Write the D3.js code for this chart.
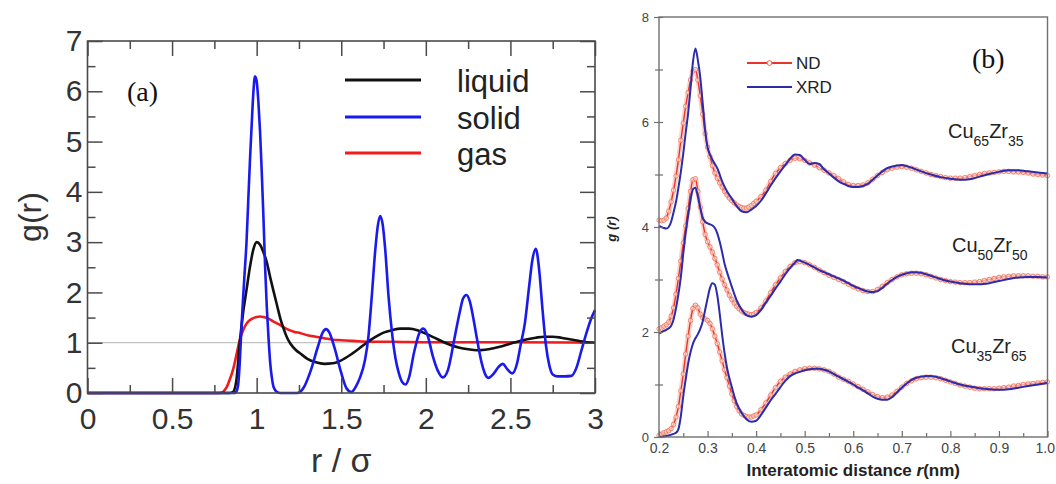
<!DOCTYPE html>
<html>
<head>
<meta charset="utf-8">
<script src="https://cdn.jsdelivr.net/npm/d3@7"></script>
<style>
  html, body { margin: 0; padding: 0; background: #fff; }
  svg { display: block; }
</style>
</head>
<body>
<svg id="chart" width="1056" height="484"></svg>
<script>
// ---------- Panel (a): model radial distribution functions, r in units of sigma ----------
const phaseNames = ["liquid", "solid", "gas"];
const phaseColors = ["#111111", "#1a1aee", "#ee1c1c"];

const gLiquid = [
  [0, 0], [0.84, 0], [0.86, 0.02], [0.88, 0.25], [0.90, 1.0], [0.92, 1.6], [0.94, 2.05],
  [0.96, 2.5], [0.98, 2.85], [1.00, 3.0], [1.02, 2.95], [1.04, 2.8], [1.06, 2.6],
  [1.08, 2.3], [1.10, 2.02], [1.12, 1.75], [1.14, 1.48], [1.16, 1.27], [1.18, 1.1],
  [1.20, 0.98], [1.23, 0.86], [1.26, 0.78], [1.30, 0.68], [1.35, 0.61], [1.40, 0.58],
  [1.45, 0.59], [1.50, 0.65], [1.55, 0.75], [1.60, 0.87], [1.65, 1.0], [1.70, 1.11],
  [1.75, 1.2], [1.80, 1.25], [1.85, 1.28], [1.90, 1.28], [1.95, 1.25], [2.00, 1.18],
  [2.05, 1.1], [2.10, 1.02], [2.15, 0.95], [2.20, 0.9], [2.25, 0.87], [2.30, 0.85],
  [2.35, 0.86], [2.40, 0.89], [2.45, 0.93], [2.50, 0.98], [2.55, 1.03], [2.60, 1.07],
  [2.65, 1.1], [2.70, 1.12], [2.75, 1.12], [2.80, 1.1], [2.85, 1.07], [2.90, 1.04],
  [2.95, 1.01], [3.00, 1.0]
];

const gSolid = [
  [0, 0], [0.87, 0], [0.88, 0.03], [0.89, 0.15], [0.90, 0.6], [0.91, 1.3], [0.92, 1.9],
  [0.93, 2.45], [0.94, 3.0], [0.95, 3.8], [0.96, 4.6], [0.97, 5.3], [0.98, 5.95],
  [0.99, 6.3], [1.00, 6.2], [1.01, 5.8], [1.02, 5.2], [1.03, 4.4], [1.04, 3.5],
  [1.05, 2.5], [1.06, 1.7], [1.07, 1.1], [1.08, 0.6], [1.09, 0.3], [1.10, 0.12],
  [1.12, 0.02], [1.14, 0], [1.24, 0], [1.28, 0.12], [1.32, 0.45], [1.36, 0.9],
  [1.39, 1.2], [1.41, 1.27], [1.43, 1.2], [1.46, 0.9], [1.50, 0.4], [1.53, 0.1],
  [1.56, 0.02], [1.59, 0.15], [1.61, 0.3], [1.64, 0.65], [1.66, 1.1], [1.68, 1.9],
  [1.70, 2.8], [1.715, 3.3], [1.73, 3.52], [1.745, 3.35], [1.76, 2.85], [1.78, 1.9],
  [1.80, 1.2], [1.82, 0.7], [1.84, 0.4], [1.86, 0.22], [1.88, 0.17], [1.90, 0.3],
  [1.93, 0.8], [1.96, 1.18], [1.985, 1.28], [2.01, 1.15], [2.04, 0.75], [2.07, 0.45],
  [2.10, 0.31], [2.13, 0.45], [2.17, 1.1], [2.20, 1.6], [2.22, 1.88], [2.24, 1.95],
  [2.26, 1.82], [2.28, 1.5], [2.30, 1.12], [2.33, 0.6], [2.36, 0.32], [2.37, 0.3],
  [2.40, 0.38], [2.43, 0.52], [2.455, 0.58], [2.48, 0.48], [2.51, 0.39], [2.54, 0.6],
  [2.56, 0.95], [2.586, 1.4], [2.61, 2.1], [2.63, 2.65], [2.65, 2.87], [2.67, 2.45],
  [2.69, 1.65], [2.71, 0.95], [2.73, 0.55], [2.75, 0.37], [2.78, 0.33], [2.82, 0.33],
  [2.86, 0.34], [2.89, 0.5], [2.92, 0.85], [2.95, 1.2], [2.98, 1.5], [3.00, 1.65]
];

const gGas = [
  [0, 0], [0.78, 0], [0.80, 0.02], [0.82, 0.1], [0.84, 0.26], [0.86, 0.46], [0.88, 0.75],
  [0.90, 1.05], [0.92, 1.25], [0.94, 1.38], [0.96, 1.45], [0.98, 1.49], [1.00, 1.51],
  [1.02, 1.52], [1.04, 1.51], [1.07, 1.48], [1.10, 1.42], [1.14, 1.35], [1.18, 1.27],
  [1.22, 1.22], [1.26, 1.19], [1.30, 1.15], [1.35, 1.12], [1.40, 1.09], [1.45, 1.06],
  [1.50, 1.05], [1.55, 1.04], [1.60, 1.03], [1.70, 1.02], [1.80, 1.02], [2.00, 1.01],
  [2.50, 1.01], [3.00, 1.0]
];

const phaseSeries = [gLiquid, gSolid, gGas];

const aMajorX = [0, 0.5, 1, 1.5, 2, 2.5, 3];
const aMinorX = [0.25, 0.75, 1.25, 1.75, 2.25, 2.75];
const aMajorY = [0, 1, 2, 3, 4, 5, 6, 7];
const aMinorY = [0.5, 1.5, 2.5, 3.5, 4.5, 5.5, 6.5];

// ---------- Panel (b): measured g(r) of Cu-Zr glasses, neutron vs X-ray ----------
const alloyMain = [["Cu", "Zr"], ["Cu", "Zr"], ["Cu", "Zr"]];
const alloySubs = [["65", "35"], ["50", "50"], ["35", "65"]];
const alloyOffsets = [4, 2, 0];

const ndCu65 = [
  [0.200,0.13],[0.205,0.12],[0.210,0.13],[0.215,0.17],[0.220,0.30],[0.225,0.48],[0.230,0.70],
  [0.235,0.97],[0.240,1.28],[0.245,1.65],[0.250,1.98],[0.255,2.30],[0.260,2.56],[0.265,2.80],
  [0.270,2.97],[0.275,3.00],[0.280,2.80],[0.285,2.50],[0.290,2.15],[0.295,1.78],[0.300,1.52],
  [0.305,1.34],[0.310,1.17],[0.315,1.03],[0.320,0.93],[0.325,0.84],[0.330,0.76],[0.335,0.68],
  [0.340,0.61],[0.345,0.55],[0.350,0.50],[0.355,0.46],[0.360,0.42],[0.365,0.39],[0.370,0.37],
  [0.375,0.36],[0.380,0.36],[0.385,0.38],[0.390,0.41],[0.395,0.45],[0.400,0.49],
  [0.41,0.58],[0.42,0.70],[0.43,0.87],[0.44,1.02],[0.45,1.13],[0.46,1.21],[0.47,1.27],
  [0.48,1.31],[0.49,1.30],[0.50,1.27],[0.51,1.22],[0.52,1.18],[0.53,1.13],[0.54,1.08],
  [0.55,1.03],[0.56,0.98],[0.57,0.92],[0.58,0.86],[0.59,0.81],[0.60,0.79],[0.61,0.79],
  [0.62,0.80],[0.63,0.84],[0.64,0.91],[0.65,0.98],[0.66,1.04],[0.67,1.09],[0.68,1.12],
  [0.69,1.14],[0.70,1.15],[0.71,1.14],[0.72,1.12],[0.73,1.09],[0.74,1.06],[0.75,1.03],
  [0.76,1.00],[0.77,0.98],[0.78,0.96],[0.79,0.94],[0.80,0.93],[0.81,0.93],[0.82,0.93],
  [0.83,0.94],[0.84,0.96],[0.85,0.98],[0.86,1.00],[0.87,1.02],[0.88,1.03],[0.89,1.04],
  [0.90,1.05],[0.91,1.06],[0.92,1.06],[0.93,1.05],[0.94,1.05],[0.95,1.04],[0.96,1.03],
  [0.97,1.01],[0.98,1.00],[0.99,0.99],[1.00,0.98]
];

const xrdCu65 = [
  [0.200,0.02],[0.205,0.00],[0.210,-0.02],[0.215,-0.03],[0.220,0.00],[0.225,0.10],[0.230,0.28],
  [0.235,0.48],[0.240,0.75],[0.245,1.05],[0.250,1.40],[0.255,1.80],[0.260,2.17],[0.265,2.65],
  [0.270,3.15],[0.275,3.40],[0.280,3.18],[0.285,2.85],[0.290,2.35],[0.295,1.85],[0.300,1.52],
  [0.305,1.38],[0.310,1.28],[0.315,1.20],[0.320,1.12],[0.330,0.87],[0.340,0.68],[0.350,0.54],
  [0.360,0.40],[0.370,0.30],[0.380,0.28],[0.390,0.33],[0.400,0.40],[0.410,0.50],[0.420,0.64],
  [0.430,0.79],[0.440,0.93],[0.450,1.06],[0.460,1.18],[0.470,1.30],[0.480,1.38],[0.490,1.37],
  [0.500,1.28],[0.510,1.20],[0.520,1.22],[0.530,1.20],[0.540,1.10],[0.550,1.02],[0.560,0.94],
  [0.570,0.87],[0.580,0.82],[0.590,0.78],[0.600,0.76],[0.610,0.76],[0.620,0.78],[0.630,0.82],
  [0.640,0.90],[0.650,0.98],[0.660,1.06],[0.670,1.12],[0.680,1.15],[0.690,1.17],[0.700,1.18],
  [0.710,1.16],[0.720,1.13],[0.740,1.06],[0.760,1.00],[0.780,0.95],[0.800,0.92],[0.820,0.90],
  [0.840,0.91],[0.860,0.96],[0.880,1.01],[0.900,1.05],[0.920,1.08],[0.940,1.08],[0.960,1.06],
  [0.980,1.04],[1.000,1.02]
];

const ndCu50 = [
  [0.200,0.06],[0.205,0.08],[0.210,0.11],[0.215,0.14],[0.220,0.19],[0.225,0.30],[0.230,0.46],
  [0.235,0.72],[0.240,1.02],[0.245,1.35],[0.250,1.70],[0.255,2.02],[0.260,2.35],[0.265,2.68],
  [0.270,2.90],[0.275,2.92],[0.280,2.68],[0.285,2.38],[0.290,2.10],[0.295,1.86],[0.300,1.72],
  [0.305,1.62],[0.310,1.52],[0.315,1.40],[0.320,1.28],[0.325,1.14],[0.330,1.01],[0.335,0.90],
  [0.340,0.80],[0.345,0.70],[0.350,0.62],[0.355,0.55],[0.360,0.49],[0.365,0.44],[0.370,0.40],
  [0.375,0.37],[0.380,0.35],[0.385,0.34],[0.390,0.33],[0.395,0.34],[0.400,0.37],
  [0.41,0.46],[0.42,0.59],[0.43,0.75],[0.44,0.90],[0.45,1.03],[0.46,1.15],[0.47,1.25],
  [0.48,1.32],[0.49,1.34],[0.50,1.32],[0.51,1.28],[0.52,1.23],[0.53,1.18],[0.54,1.13],
  [0.55,1.08],[0.56,1.04],[0.57,1.00],[0.58,0.96],[0.59,0.91],[0.60,0.86],[0.61,0.82],
  [0.62,0.79],[0.63,0.77],[0.64,0.77],[0.65,0.81],[0.66,0.87],[0.67,0.94],[0.68,1.00],
  [0.69,1.05],[0.70,1.09],[0.71,1.11],[0.72,1.12],[0.73,1.12],[0.74,1.11],[0.75,1.09],
  [0.76,1.06],[0.77,1.03],[0.78,1.00],[0.79,0.98],[0.80,0.96],[0.81,0.95],[0.82,0.94],
  [0.83,0.94],[0.84,0.94],[0.85,0.95],[0.86,0.96],[0.87,0.98],[0.88,1.00],[0.89,1.02],
  [0.90,1.04],[0.91,1.05],[0.92,1.06],[0.93,1.07],[0.94,1.07],[0.95,1.07],[0.96,1.07],
  [0.97,1.06],[0.98,1.06],[0.99,1.05],[1.00,1.05]
];

const xrdCu50 = [
  [0.200,-0.03],[0.210,0.02],[0.220,0.07],[0.225,0.12],[0.230,0.24],[0.235,0.45],[0.240,0.72],
  [0.245,1.05],[0.250,1.50],[0.255,1.90],[0.260,2.22],[0.265,2.52],[0.270,2.72],[0.275,2.75],
  [0.280,2.58],[0.285,2.36],[0.290,2.18],[0.295,2.10],[0.300,2.07],[0.305,2.05],[0.310,2.03],
  [0.315,1.98],[0.320,1.88],[0.325,1.72],[0.330,1.52],[0.335,1.30],[0.340,1.14],[0.345,1.00],
  [0.350,0.86],[0.360,0.60],[0.370,0.43],[0.380,0.32],[0.390,0.29],[0.400,0.32],[0.410,0.42],
  [0.420,0.56],[0.430,0.69],[0.440,0.83],[0.450,0.96],[0.460,1.10],[0.470,1.22],[0.480,1.32],
  [0.485,1.37],[0.490,1.36],[0.500,1.32],[0.510,1.28],[0.520,1.23],[0.530,1.18],[0.540,1.14],
  [0.550,1.10],[0.560,1.06],[0.570,1.02],[0.580,0.98],[0.590,0.93],[0.600,0.88],[0.610,0.84],
  [0.620,0.80],[0.630,0.77],[0.640,0.76],[0.650,0.78],[0.660,0.84],[0.670,0.92],[0.680,0.99],
  [0.690,1.05],[0.700,1.09],[0.710,1.12],[0.720,1.14],[0.730,1.14],[0.740,1.13],[0.750,1.10],
  [0.760,1.07],[0.780,1.01],[0.800,0.96],[0.820,0.93],[0.840,0.91],[0.860,0.91],[0.880,0.93],
  [0.900,0.97],[0.920,1.01],[0.940,1.04],[0.960,1.05],[0.980,1.05],[1.000,1.04]
];

const ndCu35 = [
  [0.200,0.03],[0.205,0.05],[0.210,0.08],[0.215,0.10],[0.220,0.12],[0.225,0.16],[0.230,0.24],
  [0.235,0.38],[0.240,0.58],[0.245,0.88],[0.250,1.20],[0.255,1.58],[0.260,1.92],[0.265,2.22],
  [0.270,2.45],[0.275,2.51],[0.280,2.46],[0.285,2.34],[0.290,2.27],[0.295,2.25],[0.300,2.22],
  [0.305,2.16],[0.310,2.06],[0.315,1.92],[0.320,1.78],[0.325,1.62],[0.330,1.45],[0.335,1.28],
  [0.340,1.13],[0.345,0.97],[0.350,0.82],[0.355,0.69],[0.360,0.58],[0.365,0.50],[0.370,0.44],
  [0.375,0.41],[0.380,0.39],[0.385,0.38],[0.390,0.38],[0.395,0.40],[0.400,0.42],
  [0.41,0.52],[0.42,0.65],[0.43,0.80],[0.44,0.94],[0.45,1.06],[0.46,1.14],[0.47,1.20],
  [0.48,1.25],[0.49,1.28],[0.50,1.30],[0.51,1.31],[0.52,1.31],[0.53,1.30],[0.54,1.28],
  [0.55,1.25],[0.56,1.20],[0.57,1.14],[0.58,1.10],[0.59,1.06],[0.60,1.01],[0.61,0.96],
  [0.62,0.91],[0.63,0.86],[0.64,0.81],[0.65,0.77],[0.66,0.75],[0.67,0.76],[0.68,0.80],
  [0.69,0.87],[0.70,0.95],[0.71,1.02],[0.72,1.07],[0.73,1.11],[0.74,1.13],[0.75,1.14],
  [0.76,1.14],[0.77,1.13],[0.78,1.11],[0.79,1.08],[0.80,1.05],[0.81,1.02],[0.82,0.99],
  [0.83,0.97],[0.84,0.95],[0.85,0.93],[0.86,0.92],[0.87,0.92],[0.88,0.92],[0.89,0.92],
  [0.90,0.93],[0.91,0.94],[0.92,0.95],[0.93,0.97],[0.94,0.98],[0.95,1.00],[0.96,1.01],
  [0.97,1.02],[0.98,1.03],[0.99,1.04],[1.00,1.05]
];

const xrdCu35 = [
  [0.200,0.00],[0.210,0.01],[0.220,0.03],[0.230,0.06],[0.235,0.08],[0.240,0.15],[0.245,0.40],
  [0.250,0.78],[0.255,1.10],[0.260,1.40],[0.265,1.62],[0.270,1.78],[0.275,1.88],[0.280,1.96],
  [0.285,2.06],[0.290,2.20],[0.295,2.42],[0.300,2.64],[0.305,2.84],[0.310,2.93],[0.315,2.90],
  [0.320,2.70],[0.325,2.35],[0.330,1.95],[0.335,1.60],[0.340,1.32],[0.345,1.12],[0.350,0.95],
  [0.355,0.78],[0.360,0.64],[0.370,0.46],[0.380,0.34],[0.390,0.29],[0.400,0.31],[0.410,0.42],
  [0.420,0.56],[0.430,0.70],[0.440,0.82],[0.450,0.95],[0.460,1.07],[0.470,1.16],[0.480,1.21],
  [0.490,1.24],[0.500,1.27],[0.510,1.29],[0.520,1.30],[0.530,1.30],[0.540,1.28],[0.550,1.25],
  [0.560,1.20],[0.570,1.15],[0.580,1.10],[0.590,1.05],[0.600,1.00],[0.610,0.94],[0.620,0.89],
  [0.630,0.83],[0.640,0.77],[0.650,0.73],[0.660,0.71],[0.670,0.71],[0.680,0.76],[0.690,0.85],
  [0.700,0.94],[0.710,1.02],[0.720,1.09],[0.730,1.13],[0.740,1.15],[0.750,1.16],[0.760,1.16],
  [0.780,1.12],[0.800,1.06],[0.820,1.00],[0.840,0.96],[0.860,0.93],[0.880,0.91],[0.900,0.90],
  [0.920,0.91],[0.940,0.94],[0.960,0.97],[0.980,1.00],[1.000,1.03]
];

const ndSeries = [ndCu65, ndCu50, ndCu35];
const xrdSeries = [xrdCu65, xrdCu50, xrdCu35];
const methodNames = ["ND", "XRD"];

const bMajorX = [0.2, 0.3, 0.4, 0.5, 0.6, 0.7, 0.8, 0.9, 1.0];
const bMinorX = [0.25, 0.35, 0.45, 0.55, 0.65, 0.75, 0.85, 0.95];
const bMajorY = [0, 2, 4, 6, 8];
const bMinorY = [1, 3, 5, 7];

// ---------- drawing ----------
const svg = d3.select("#chart");
const SANS = "'Liberation Sans', Arial, sans-serif";
const SERIF = "'Liberation Serif', 'Times New Roman', serif";

// ===== panel (a) =====
(function panelA() {
  const L = 87.5, R = 595, T = 41, B = 393;
  const x = d3.scaleLinear().domain([0, 3]).range([L, R]);
  const y = d3.scaleLinear().domain([0, 7]).range([B, T]);
  const g = svg.append("g").attr("class", "panel-a");

  // reference line g(r) = 1
  g.append("line")
    .attr("x1", x(0)).attr("x2", x(3)).attr("y1", y(1)).attr("y2", y(1))
    .attr("stroke", "#b4b4b4").attr("stroke-width", 1);

  const line = d3.line().x(d => x(d[0])).y(d => y(d[1])).curve(d3.curveMonotoneX);
  // draw order: gas, liquid, solid on top
  [2, 0, 1].forEach(i => {
    g.append("path").datum(phaseSeries[i])
      .attr("d", line).attr("fill", "none")
      .attr("stroke", phaseColors[i]).attr("stroke-width", 2.6)
      .attr("stroke-linejoin", "round");
  });

  const axisColor = "#4a4a4a";
  function styleAxis(sel) {
    sel.select(".domain").remove();
    sel.selectAll(".tick line").attr("stroke", axisColor).attr("stroke-width", 1.5);
    sel.selectAll(".tick text").attr("fill", "#333").attr("font-family", SANS).attr("font-size", 30);
  }
  const fmtA = d => String(d);
  g.append("g").attr("transform", `translate(0,${B})`)
    .call(d3.axisBottom(x).tickValues(aMajorX).tickFormat(fmtA).tickSize(-15).tickPadding(15))
    .call(styleAxis);
  g.append("g").attr("transform", `translate(0,${B})`)
    .call(d3.axisBottom(x).tickValues(aMinorX).tickFormat("").tickSize(-8))
    .call(styleAxis);
  g.append("g").attr("transform", `translate(0,${T})`)
    .call(d3.axisTop(x).tickValues(aMajorX).tickFormat("").tickSize(-15))
    .call(styleAxis);
  g.append("g").attr("transform", `translate(0,${T})`)
    .call(d3.axisTop(x).tickValues(aMinorX).tickFormat("").tickSize(-8))
    .call(styleAxis);
  g.append("g").attr("transform", `translate(${L},0)`)
    .call(d3.axisLeft(y).tickValues(aMajorY).tickFormat(fmtA).tickSize(-15).tickPadding(5))
    .call(styleAxis);
  g.append("g").attr("transform", `translate(${L},0)`)
    .call(d3.axisLeft(y).tickValues(aMinorY).tickFormat("").tickSize(-8))
    .call(styleAxis);
  g.append("g").attr("transform", `translate(${R},0)`)
    .call(d3.axisRight(y).tickValues(aMajorY).tickFormat("").tickSize(-15))
    .call(styleAxis);
  g.append("g").attr("transform", `translate(${R},0)`)
    .call(d3.axisRight(y).tickValues(aMinorY).tickFormat("").tickSize(-8))
    .call(styleAxis);

  g.append("rect").attr("x", L).attr("y", T).attr("width", R - L).attr("height", B - T)
    .attr("fill", "none").attr("stroke", axisColor).attr("stroke-width", 1.6);

  // axis titles
  g.append("text").attr("x", (L + R) / 2).attr("y", 472)
    .attr("text-anchor", "middle").attr("font-family", SANS).attr("font-size", 34)
    .attr("fill", "#333").text("r / σ");
  g.append("text")
    .attr("transform", `translate(30,${(T + B) / 2}) rotate(-90)`)
    .attr("text-anchor", "middle").attr("dy", "0.35em")
    .attr("font-family", SANS).attr("font-size", 32).attr("fill", "#333").text("g(r)");

  g.append("text").attr("x", 127).attr("y", 101)
    .attr("font-family", SERIF).attr("font-size", 28).attr("fill", "#111").text("(a)");

  // legend
  const leg = g.append("g");
  const legY = [80, 117, 153];
  phaseNames.forEach((name, i) => {
    leg.append("line").attr("x1", 345).attr("x2", 421).attr("y1", legY[i]).attr("y2", legY[i])
      .attr("stroke", phaseColors[i]).attr("stroke-width", 3);
    leg.append("text").attr("x", 457).attr("y", legY[i] + 12)
      .attr("font-family", SANS).attr("font-size", 31).attr("fill", "#222").text(name);
  });
})();

// ===== panel (b) =====
(function panelB() {
  const L = 659, R = 1047.5, T = 17, B = 437;
  const x = d3.scaleLinear().domain([0.2, 1.0]).range([L, R]);
  const y = d3.scaleLinear().domain([0, 8]).range([B, T]);
  const g = svg.append("g").attr("class", "panel-b");
  const ndColor = "#e8352c", xrdColor = "#2b2bab";

  alloyOffsets.forEach((off, i) => {
    const line = d3.line().x(d => x(d[0])).y(d => y(d[1] + off)).curve(d3.curveMonotoneX);
    const nd = ndSeries[i];
    g.append("path").datum(nd).attr("d", line).attr("fill", "none")
      .attr("stroke", "#f7a090").attr("stroke-opacity", 0.45).attr("stroke-width", 5);
    g.append("path").datum(nd).attr("d", line).attr("fill", "none")
      .attr("stroke", ndColor).attr("stroke-width", 1.4);
    g.append("g").selectAll("circle").data(nd).join("circle")
      .attr("cx", d => x(d[0])).attr("cy", d => y(d[1] + off)).attr("r", 2.2)
      .attr("fill", "#fff4ee").attr("fill-opacity", 0.6)
      .attr("stroke", "#ee6a50").attr("stroke-opacity", 0.85).attr("stroke-width", 0.9);
    g.append("path").datum(xrdSeries[i]).attr("d", line).attr("fill", "none")
      .attr("stroke", xrdColor).attr("stroke-width", 2).attr("stroke-linejoin", "round");
  });

  const axisColor = "#707070";
  function styleAxis(sel) {
    sel.select(".domain").remove();
    sel.selectAll(".tick line").attr("stroke", axisColor).attr("stroke-width", 1.2);
    sel.selectAll(".tick text").attr("fill", "#444").attr("font-family", SANS);
  }
  const bottomAxis = g.append("g").attr("transform", `translate(0,${B})`)
    .call(d3.axisBottom(x).tickValues(bMajorX).tickFormat(d3.format(".1f")).tickSize(-6).tickPadding(6))
    .call(styleAxis);
  bottomAxis.selectAll(".tick text").attr("font-size", 14);
  // the last label sits at the page edge; nudge it inward so it stays whole
  bottomAxis.selectAll(".tick text").filter(d => d === bMajorX[bMajorX.length - 1])
    .attr("text-anchor", "end").attr("dx", 7);
  g.append("g").attr("transform", `translate(0,${B})`)
    .call(d3.axisBottom(x).tickValues(bMinorX).tickFormat("").tickSize(-4))
    .call(styleAxis);
  g.append("g").attr("transform", `translate(${L},0)`)
    .call(d3.axisLeft(y).tickValues(bMajorY).tickFormat(d3.format("d")).tickSize(5).tickPadding(5))
    .call(styleAxis).selectAll(".tick text").attr("font-size", 13);
  g.append("g").attr("transform", `translate(${L},0)`)
    .call(d3.axisLeft(y).tickValues(bMajorY.concat(bMinorY)).tickFormat("").tickSize(-4))
    .call(styleAxis);
  g.append("g").attr("transform", `translate(${L},0)`)
    .call(d3.axisLeft(y).tickValues(bMinorY).tickFormat("").tickSize(4))
    .call(styleAxis);

  g.append("rect").attr("x", L).attr("y", T).attr("width", R - L).attr("height", B - T)
    .attr("fill", "none").attr("stroke", axisColor).attr("stroke-width", 1.4);

  // axis titles
  const xt = g.append("text").attr("x", (L + R) / 2).attr("y", 476)
    .attr("text-anchor", "middle").attr("font-family", SANS).attr("font-size", 17)
    .attr("font-weight", "bold").attr("fill", "#222");
  xt.append("tspan").text("Interatomic distance ");
  xt.append("tspan").attr("font-style", "italic").text("r");
  xt.append("tspan").text("(nm)");

  g.append("text")
    .attr("transform", `translate(616,229) rotate(-90)`)
    .attr("text-anchor", "middle").attr("font-family", SANS).attr("font-size", 13)
    .attr("font-weight", "bold").attr("font-style", "italic").attr("fill", "#222").text("g (r)");

  g.append("text").attr("x", 972).attr("y", 68)
    .attr("font-family", SERIF).attr("font-size", 28).attr("fill", "#111").text("(b)");

  // composition labels
  const labelPos = [[948, 138], [952, 252], [951, 353]];
  alloyMain.forEach((parts, i) => {
    const t = g.append("text").attr("x", labelPos[i][0]).attr("y", labelPos[i][1])
      .attr("font-family", SANS).attr("font-size", 20).attr("fill", "#222");
    t.append("tspan").text(parts[0]);
    t.append("tspan").attr("font-size", 14).attr("dy", 8).text(alloySubs[i][0]);
    t.append("tspan").attr("dy", -8).text(parts[1]);
    t.append("tspan").attr("font-size", 14).attr("dy", 8).text(alloySubs[i][1]);
  });

  // legend
  const legY = [63, 87];
  g.append("line").attr("x1", 747).attr("x2", 792).attr("y1", legY[0]).attr("y2", legY[0])
    .attr("stroke", ndColor).attr("stroke-width", 2);
  g.append("circle").attr("cx", 769.5).attr("cy", legY[0]).attr("r", 2.4)
    .attr("fill", "#fff4ee").attr("stroke", "#ee6a50").attr("stroke-width", 1);
  g.append("line").attr("x1", 747).attr("x2", 792).attr("y1", legY[1]).attr("y2", legY[1])
    .attr("stroke", xrdColor).attr("stroke-width", 2);
  methodNames.forEach((name, i) => {
    g.append("text").attr("x", 796).attr("y", legY[i] + 6)
      .attr("font-family", SANS).attr("font-size", 17).attr("fill", "#222").text(name);
  });
})();
</script>
</body>
</html>
